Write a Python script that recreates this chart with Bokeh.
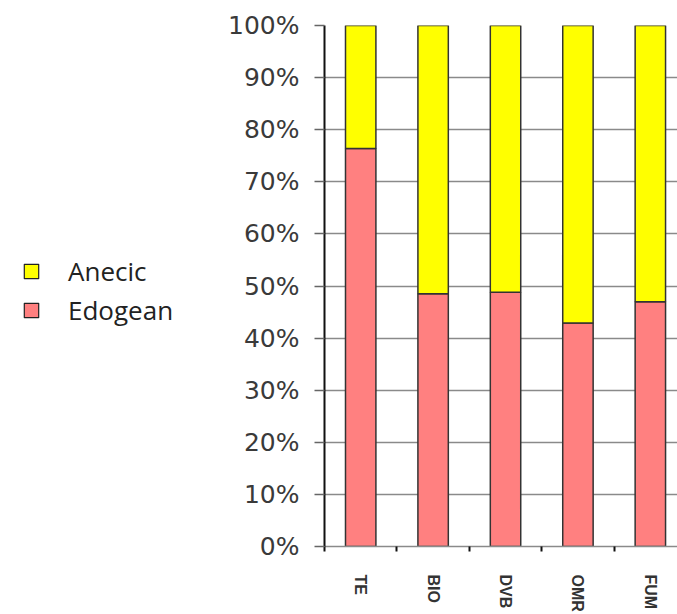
from bokeh.plotting import figure
from bokeh.layouts import row
from bokeh.models import (Range1d, FixedTicker, PrintfTickFormatter, Legend,
                          LegendItem, ColumnDataSource)
from bokeh.embed import file_html
from bokeh.resources import INLINE

categories = ["TE", "BIO", "DVB", "OMR", "FUM"]
edogean = [76.4, 48.5, 48.8, 42.9, 47.0]
anecic = [23.6, 51.5, 51.2, 57.1, 53.0]
y_ticks = [0, 10, 20, 30, 40, 50, 60, 70, 80, 90, 100]
series = ["Edogean", "Anecic"]
colors = ["#FF8080", "#FFFF00"]

centers = [i + 0.5 for i in range(len(categories))]
bounds = [i for i in range(len(categories))]

src = ColumnDataSource(dict(x=centers, Edogean=edogean, Anecic=anecic))

# ---- main chart ----
p = figure(width=477, height=614, output_backend="svg", toolbar_location=None,
           x_range=Range1d(0, 4.875), y_range=Range1d(0, 100),
           min_border_left=124, min_border_right=0, min_border_top=25,
           min_border_bottom=68)
p.outline_line_color = None
p.background_fill_color = "white"
p.border_fill_color = "white"

p.vbar_stack(series, x="x", width=0.42, source=src, fill_color=colors,
             line_color="#333333", line_width=1.5)

p.xgrid.visible = False
p.ygrid.ticker = FixedTicker(ticks=y_ticks)
p.ygrid.grid_line_color = "#8a8a8a"
p.ygrid.grid_line_width = 1.5

ya = p.yaxis[0]
ya.ticker = FixedTicker(ticks=y_ticks)
ya.formatter = PrintfTickFormatter(format="%d%%")
ya.axis_line_color = "#111111"
ya.axis_line_width = 2
ya.major_tick_line_color = "#666666"
ya.major_tick_line_width = 1.5
ya.major_tick_out = 10
ya.major_tick_in = 0
ya.minor_tick_line_color = None
ya.major_label_standoff = 15
ya.major_label_text_font = "DejaVu Sans"
ya.major_label_text_font_size = "25px"
ya.major_label_text_color = "#3a3a3a"

xa = p.xaxis[0]
xa.ticker = FixedTicker(ticks=centers, minor_ticks=bounds)
xa.major_label_overrides = {c: lab for c, lab in zip(centers, categories)}
xa.major_label_orientation = "vertical"
xa.major_tick_line_color = None
xa.major_tick_out = 0
xa.major_tick_in = 0
xa.minor_tick_line_color = "#111111"
xa.minor_tick_line_width = 2
xa.minor_tick_out = 5
xa.minor_tick_in = 0
xa.axis_line_color = "#8a8a8a"
xa.axis_line_width = 1.5
xa.major_label_standoff = 23
xa.major_label_text_font = "Liberation Sans"
xa.major_label_text_font_style = "bold"
xa.major_label_text_font_size = "16px"
xa.major_label_text_color = "#333333"

# ---- legend panel (left) ----
lg = figure(width=200, height=614, output_backend="svg", toolbar_location=None,
            x_axis_location=None, y_axis_location=None,
            x_range=Range1d(0, 1), y_range=Range1d(0, 1),
            min_border=0)
lg.outline_line_color = None
lg.grid.visible = False
nan = float("nan")
key_src = ColumnDataSource(dict(x=[nan], top=[nan]))
key_a = lg.vbar(x="x", top="top", width=0.5, source=key_src,
                fill_color=colors[1], line_color="#222222", line_width=1.2)
key_e = lg.vbar(x="x", top="top", width=0.5, source=key_src,
                fill_color=colors[0], line_color="#222222", line_width=1.2)

legend = Legend(items=[LegendItem(label="Anecic", renderers=[key_a]),
                       LegendItem(label="Edogean", renderers=[key_e])],
                location=(22, 218), orientation="vertical",
                glyph_width=18, glyph_height=18,
                label_standoff=28, spacing=3, padding=0, margin=0,
                border_line_color=None, background_fill_alpha=0,
                label_text_font="Open Sans", label_text_font_size="26px",
                label_text_color="#222222")
lg.add_layout(legend, "center")

layout = row(lg, p, spacing=0)
open("out.html", "w").write(file_html(layout, INLINE))
